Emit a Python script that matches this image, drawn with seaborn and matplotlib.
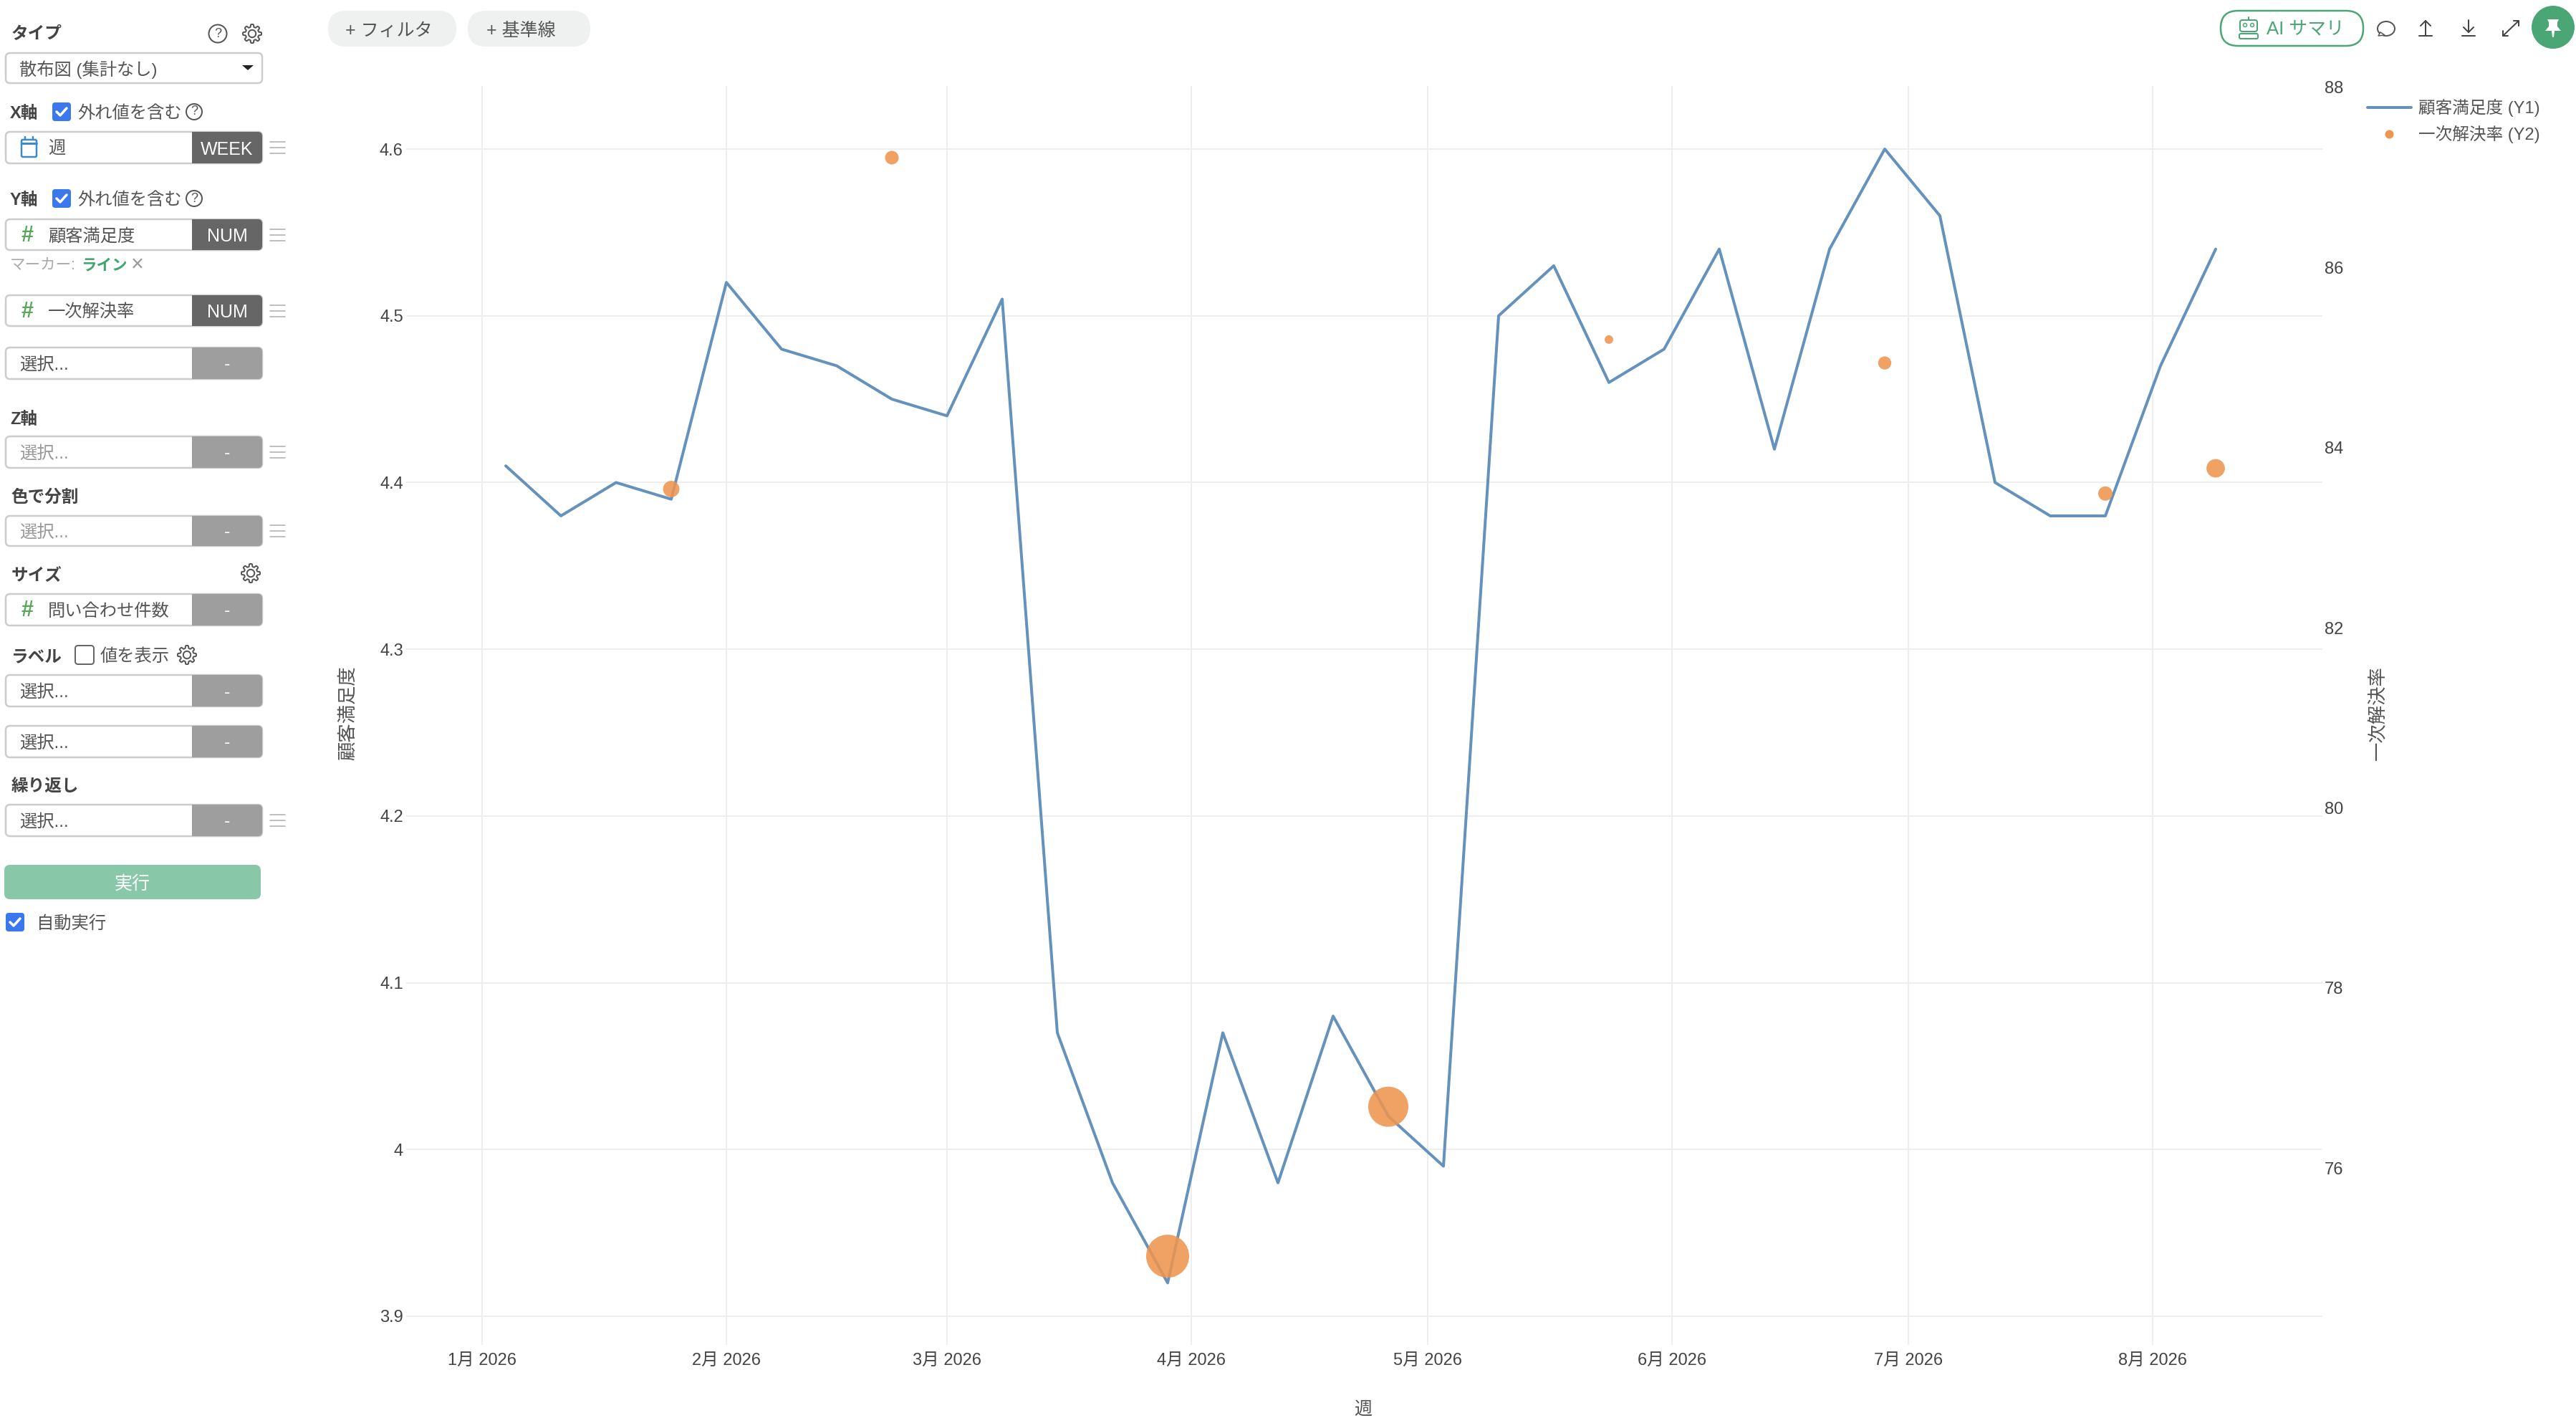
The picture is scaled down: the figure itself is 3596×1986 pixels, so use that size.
import numpy as np
import pandas as pd
import matplotlib
matplotlib.use("Agg")
import matplotlib.pyplot as plt
import matplotlib.dates as mdates
from matplotlib.patches import FancyBboxPatch, Rectangle, Circle, Polygon, Ellipse
from matplotlib.lines import Line2D
import seaborn as sns

# ---------- data ----------
week_start = "2026-01-04"
satisfaction = [4.41, 4.38, 4.40, 4.39, 4.52, 4.48, 4.47, 4.45, 4.44, 4.51, 4.07,
                3.98, 3.92, 4.07, 3.98, 4.08, 4.02, 3.99, 4.50, 4.53, 4.46, 4.48,
                4.54, 4.42, 4.54, 4.60, 4.56, 4.40, 4.38, 4.38, 4.47, 4.54]
resolution_weeks = ["2026-01-25", "2026-02-22", "2026-03-29", "2026-04-26",
                    "2026-05-24", "2026-06-28", "2026-07-26", "2026-08-09"]
resolution_rate = [83.54, 87.22, 75.02, 76.68, 85.20, 84.94, 83.49, 83.77]
inquiries = [210, 145, 1440, 1255, 58, 135, 160, 265]
month_ticks = ["2026-01-01", "2026-02-01", "2026-03-01", "2026-04-01",
               "2026-05-01", "2026-06-01", "2026-07-01", "2026-08-01"]
month_labels = ["1月 2026", "2月 2026", "3月 2026", "4月 2026",
                "5月 2026", "6月 2026", "7月 2026", "8月 2026"]
y1_ticks = [3.9, 4.0, 4.1, 4.2, 4.3, 4.4, 4.5, 4.6]
y1_labels = ["3.9", "4", "4.1", "4.2", "4.3", "4.4", "4.5", "4.6"]
y2_ticks = [76, 78, 80, 82, 84, 86, 88]

line_df = pd.DataFrame({"週": pd.date_range(week_start, periods=len(satisfaction), freq="7D"),
                        "顧客満足度": satisfaction})
dot_df = pd.DataFrame({"週": pd.to_datetime(resolution_weeks), "一次解決率": resolution_rate,
                       "問い合わせ件数": inquiries})

# ---------- style ----------
W, H = 3596, 1986
px = 0.72
sns.set_theme(style="whitegrid", rc={"grid.color": "#eeeeee", "grid.linewidth": 2 * px})
FONT = ["Liberation Sans", "Noto Sans CJK JP", "DejaVu Sans"]
plt.rcParams["font.family"] = FONT
BLUE, ORANGE = "#6492bc", "#ee9550"
TXT = "#555555"

fig = plt.figure(figsize=(W / 100, H / 100), dpi=100, facecolor="white")
L, R, T_, B = 567, 3242, 120, 1877
ax = fig.add_axes([L / W, 1 - B / H, (R - L) / W, (B - T_) / H])
ax.set_facecolor("white")

# ---------- chart ----------
sns.lineplot(data=line_df, x="週", y="顧客満足度", ax=ax, color=BLUE, linewidth=4 * px, legend=False)
ax2 = ax.twinx()
sns.scatterplot(data=dot_df, x="週", y="一次解決率", size="問い合わせ件数",
                sizes=((12 * px) ** 2, (60 * px) ** 2), ax=ax2, color=ORANGE,
                alpha=0.88, linewidth=0, legend=False)

jan1 = mdates.date2num(pd.Timestamp("2026-01-01"))
ax.set_xlim(jan1 - 106 / 11.0, jan1 + (R - 673) / 11.0)
ax.set_ylim(3.9 - 40 / 2327.1, 4.6 + 88 / 2327.1)
ax2.set_ylim(88 - (B - 122) / 125.67, 88 + 2 / 125.67)
ax.set_xticks(mdates.date2num(pd.to_datetime(month_ticks)))
ax.set_xticklabels(month_labels)
ax.set_yticks(y1_ticks)
ax.set_yticklabels(y1_labels)
ax2.set_yticks(y2_ticks)
ax2.grid(False)
ax.tick_params(axis="x", length=0, pad=8, labelsize=17, labelcolor="#444444")
ax.tick_params(axis="y", length=0, pad=3, labelsize=17, labelcolor="#444444")
ax2.tick_params(axis="y", length=0, pad=2, labelsize=17, labelcolor="#444444")
for a in (ax, ax2):
    for s in a.spines.values():
        s.set_visible(False)
ax.set_xlabel("")
ax.set_ylabel("")
ax2.set_ylabel("")

fig.legend(handles=[Line2D([], [], color=BLUE, lw=4 * px),
                    Line2D([], [], color=ORANGE, marker="o", ls="", ms=12 * px, mew=0)],
           labels=["顧客満足度 (Y1)", "一次解決率 (Y2)"],
           loc="upper left", bbox_to_anchor=(3305 / W, 1 - 138 / H), bbox_transform=fig.transFigure,
           frameon=False, fontsize=17, labelcolor=TXT, borderpad=0, borderaxespad=0,
           handlelength=2.58, handletextpad=0.42, labelspacing=0.5)

# ---------- app chrome overlay (pixel coordinates) ----------
ov = fig.add_axes([0, 0, 1, 1], zorder=5)
ov.set_xlim(0, W)
ov.set_ylim(H, 0)
ov.axis("off")
ov.patch.set_alpha(0)


def T(x, y, s, size=17.5, color=TXT, weight="normal", ha="left", rotation=0):
    ov.text(x, y + 2.5, s, fontsize=size, color=color, weight=weight, ha=ha, va="center",
            rotation=rotation, family=FONT)


def rbox(x0, y0, x1, y1, r=6, fc="white", ec="none", lw=0):
    ov.add_patch(FancyBboxPatch((x0, y0), x1 - x0, y1 - y0, boxstyle=f"round,pad=0,rounding_size={r}",
                                fc=fc, ec=ec, lw=lw * px))


def menu(cy):
    for d in (-8, 0, 8):
        ov.plot([377, 398], [cy + d, cy + d], color="#aaaaaa", lw=1.5 * px)


def gear(cx, cy, r=13):
    ang = np.linspace(0, 2 * np.pi, 161)
    rad = r * (0.86 + 0.14 * np.tanh(3 * np.cos(8 * ang)))
    ov.add_patch(Polygon(np.c_[cx + rad * np.cos(ang), cy + rad * np.sin(ang)], closed=True,
                         fc="none", ec="#555555", lw=2 * px))
    ov.add_patch(Circle((cx, cy), r * 0.4, fc="none", ec="#555555", lw=2 * px))


def qmark(cx, cy, r=12.5):
    ov.add_patch(Circle((cx, cy), r, fc="none", ec="#555555", lw=2 * px))
    ov.text(cx, cy, "?", fontsize=13, color=TXT, ha="center", va="center", family=FONT)


def check(x0, y0, x1, y1, on=True):
    if on:
        rbox(x0, y0, x1, y1, r=4, fc="#3b78ee")
        ov.plot([x0 + 6, x0 + 11, x1 - 6], [(y0 + y1) / 2, y1 - 8, y0 + 8], color="white", lw=3.5 * px)
    else:
        rbox(x0, y0, x1, y1, r=4, fc="white", ec="#666666", lw=2)


def field(y0, y1, label="選択...", tag="-", dark=False, icon=None, has_menu=True, color=TXT):
    rbox(8, y0, 366, y1, r=6, fc="white", ec="#cccccc", lw=2.5)
    fc = "#666666" if dark else "#9e9e9e"
    rbox(268, y0, 366, y1, r=6, fc=fc)
    ov.add_patch(Rectangle((268, y0), 12, y1 - y0, fc=fc, ec="none"))
    cy = (y0 + y1) / 2
    if icon == "hash":
        T(38, cy - 1, "#", size=22, color="#5aa65a", weight="bold", ha="center")
    elif icon == "cal":
        rbox(30, cy - 11, 51, cy + 13, r=2, fc="none", ec="#3b8bc9", lw=2.5)
        ov.plot([30, 51], [cy - 6, cy - 6], color="#3b8bc9", lw=3 * px)
        ov.plot([35, 35], [cy - 15, cy - 11], color="#3b8bc9", lw=2.5 * px)
        ov.plot([46, 46], [cy - 15, cy - 11], color="#3b8bc9", lw=2.5 * px)
    T(67 if icon else 27, cy, label, color=color)
    T(317, cy, tag, size=18, color="white", ha="center")
    if has_menu:
        menu(cy)


HEAD = "#444444"
T(16, 45, "タイプ", size=17, color=HEAD, weight="bold")
qmark(304, 47)
gear(352, 47)
rbox(8, 74, 366, 116, r=6, fc="white", ec="#cccccc", lw=2.5)
T(27, 95, "散布図 (集計なし)")
ov.add_patch(Polygon([[338, 91], [354, 91], [346, 98]], closed=True, fc="#222222", ec="none"))

T(14, 156, "X軸", size=17, color=HEAD, weight="bold")
check(73, 143, 99, 169)
T(108, 156, "外れ値を含む")
qmark(271, 156, 11)
field(184, 228, "週", "WEEK", dark=True, icon="cal")

T(14, 277, "Y軸", size=17, color=HEAD, weight="bold")
check(73, 264, 99, 290)
T(108, 277, "外れ値を含む")
qmark(271, 277, 11)
field(306, 349, "顧客満足度", "NUM", dark=True, icon="hash")
T(14, 368, "マーカー:", size=15.5, color="#aaaaaa")
T(113, 368, "ライン", size=15.5, color="#44a66f", weight="bold")
T(192, 368, "×", size=22, color="#999999", ha="center")
field(412, 455, "一次解決率", "NUM", dark=True, icon="hash")
field(485, 529, has_menu=False)

T(14, 583, "Z軸", size=17, color=HEAD, weight="bold")
field(609, 653, color="#999999")
T(16, 692, "色で分割", size=17, color=HEAD, weight="bold")
field(720, 762, color="#999999")
T(16, 801, "サイズ", size=17, color=HEAD, weight="bold")
gear(350, 800)
field(829, 873, "問い合わせ件数", icon="hash", has_menu=False)
T(16, 914, "ラベル", size=17, color=HEAD, weight="bold")
check(105, 901, 131, 927, on=False)
T(140, 914, "値を表示")
gear(261, 914)
field(942, 986, has_menu=False)
field(1013, 1057, has_menu=False)
T(16, 1096, "繰り返し", size=17, color=HEAD, weight="bold")
field(1123, 1167)
rbox(6, 1207, 364, 1255, r=8, fc="#88c7a8")
T(185, 1231, "実行", size=18, color="white", ha="center")
check(8, 1274, 34, 1300)
T(51, 1287, "自動実行")

# top pills
rbox(458, 15, 637, 65, r=25, fc="#eff0f0")
rbox(653, 15, 824, 65, r=25, fc="#eff0f0")
T(482, 40, "+ フィルタ", size=18)
T(679, 40, "+ 基準線", size=18)

# top-right toolbar
GREEN = "#4aa675"
rbox(3100, 15, 3299, 64, r=24, fc="white", ec=GREEN, lw=2.5)
rbox(3127, 28, 3151, 44, r=3, fc="none", ec=GREEN, lw=2)
ov.add_patch(Circle((3134, 35), 2.5, fc="none", ec=GREEN, lw=1.5 * px))
ov.add_patch(Circle((3144, 35), 2.5, fc="none", ec=GREEN, lw=1.5 * px))
ov.plot([3139, 3139], [24, 28], color=GREEN, lw=2 * px)
rbox(3126, 47, 3152, 54, r=2, fc="none", ec=GREEN, lw=2)
T(3164, 38, "AI サマリ", size=18.5, color=GREEN)
ov.add_patch(Ellipse((3331, 40), 24, 20, fc="none", ec="#555555", lw=2 * px))
ov.add_patch(Polygon([[3323, 45], [3320, 50], [3329, 49]], closed=True, fc="white", ec="#555555", lw=1.5 * px))
# upload arrow
ov.plot([3386, 3386], [29, 50], color="#444444", lw=2 * px)
ov.plot([3379, 3386, 3393], [36, 29, 36], color="#444444", lw=2 * px)
ov.plot([3377, 3395], [50, 50], color="#444444", lw=2 * px)
# download arrow
ov.plot([3446, 3446], [28, 45], color="#444444", lw=2 * px)
ov.plot([3439, 3446, 3453], [38, 45, 38], color="#444444", lw=2 * px)
ov.plot([3437, 3455], [50, 50], color="#444444", lw=2 * px)
# expand
ov.plot([3494, 3516], [50, 29], color="#444444", lw=2 * px)
ov.plot([3494, 3494, 3501], [43, 50, 50], color="#444444", lw=2 * px)
ov.plot([3509, 3516, 3516], [29, 29, 36], color="#444444", lw=2 * px)
ov.add_patch(Circle((3564, 38), 30, fc=GREEN, ec="none"))
ov.add_patch(Polygon([[3556, 27], [3572, 27], [3570, 31], [3570, 37], [3575, 43], [3566, 43], [3565, 52],
                      [3563, 52], [3562, 43], [3553, 43], [3558, 37], [3558, 31]], closed=True,
                     fc="white", ec="none"))

# axis titles
T(486, 993, "顧客満足度", size=19, color=TXT, ha="center", rotation=90)
T(3319, 993, "一次解決率", size=19, color=TXT, ha="center", rotation=90)
T(1903, 1964, "週", size=18, color=TXT, ha="center")

fig.savefig("out.png", dpi=100, facecolor="white")
